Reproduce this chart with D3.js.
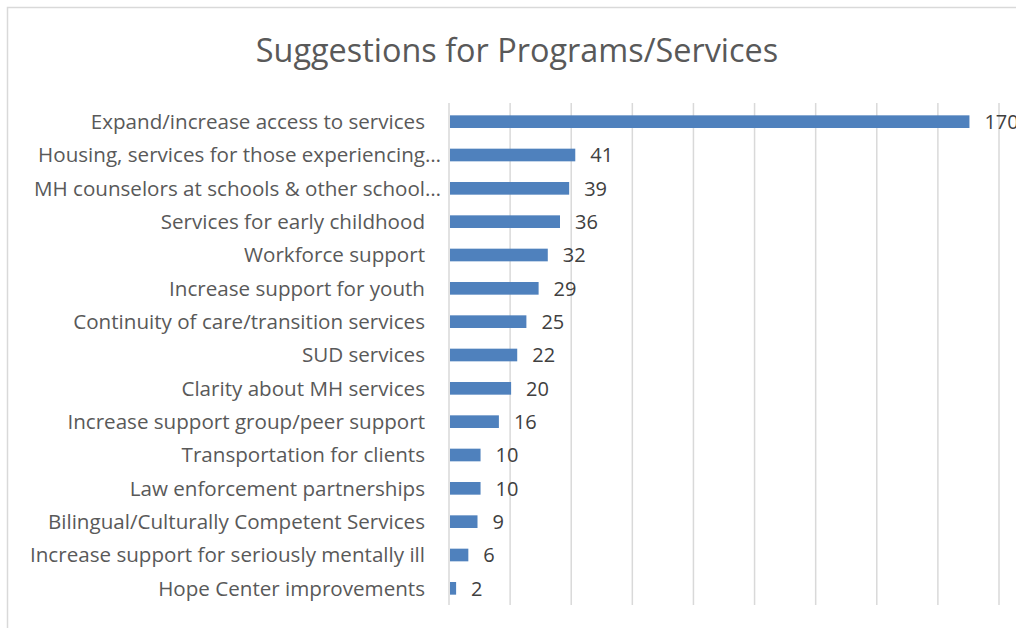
<!DOCTYPE html>
<html>
<head>
<meta charset="utf-8">
<script src="https://cdn.jsdelivr.net/npm/d3@7"></script>
<style>
  html, body { margin: 0; padding: 0; background: #fff; }
  svg { display: block; }
</style>
</head>
<body>
<svg id="chart" width="1016" height="628"></svg>
<script>
// Survey responses: suggestions for programs and services
const categories = [
  "Expand/increase access to services",
  "Housing, services for those experiencing…",
  "MH counselors at schools & other school…",
  "Services for early childhood",
  "Workforce support",
  "Increase support for youth",
  "Continuity of care/transition services",
  "SUD services",
  "Clarity about MH services",
  "Increase support group/peer support",
  "Transportation for clients",
  "Law enforcement partnerships",
  "Bilingual/Culturally Competent Services",
  "Increase support for seriously mentally ill",
  "Hope Center improvements"
];
const counts = [170, 41, 39, 36, 32, 29, 25, 22, 20, 16, 10, 10, 9, 6, 2];
const gridTicks = [0, 20, 40, 60, 80, 100, 120, 140, 160, 180];
const titleText = "Suggestions for Programs/Services";

const svg = d3.select("#chart");
const font = "'Open Sans', 'Noto Sans', sans-serif";

// chart frame
svg.append("rect")
  .attr("x", 7.5).attr("y", 7.5)
  .attr("width", 1100).attr("height", 700)
  .attr("fill", "#fff")
  .attr("stroke", "#d9d9d9").attr("stroke-width", 1.5);

const plot = { left: 449, right: 999, top: 105, bottom: 605 };

const x = d3.scaleLinear().domain([0, 180]).range([plot.left, plot.right]);
const y = d3.scaleBand().domain(categories).range([plot.top, plot.bottom]).paddingInner(0.62).paddingOuter(0.31);

// title
svg.append("text")
  .attr("x", 517).attr("y", 62)
  .attr("text-anchor", "middle")
  .attr("font-family", font)
  .attr("font-size", 32.4)
  .attr("fill", "#595959")
  .text(titleText);

// vertical gridlines
svg.append("g")
  .selectAll("line")
  .data(gridTicks)
  .join("line")
  .attr("x1", d => x(d)).attr("x2", d => x(d))
  .attr("y1", plot.top - 2).attr("y2", plot.bottom)
  .attr("stroke", "#d9d9d9").attr("stroke-width", 1.5);

// bars
svg.append("g")
  .selectAll("rect")
  .data(categories)
  .join("rect")
  .attr("x", x(0) + 1)
  .attr("y", d => y(d))
  .attr("width", (d, i) => x(counts[i]) - x(0))
  .attr("height", y.bandwidth())
  .attr("fill", "#4f81bd");

// category labels; truncated labels let the ellipsis spill past the label column
const labelSize = 20.6;
const labels = svg.append("g");
categories.forEach(c => {
  const cy = y(c) + y.bandwidth() / 2;
  const truncated = c.endsWith("…");
  const base = truncated ? c.slice(0, -1) : c;
  labels.append("text")
    .attr("x", 425).attr("y", cy)
    .attr("dy", "0.36em")
    .attr("text-anchor", "end")
    .attr("font-family", font)
    .attr("font-size", labelSize)
    .attr("fill", "#595959")
    .text(base);
  if (truncated) {
    labels.append("text")
      .attr("x", 425).attr("y", cy)
      .attr("dy", "0.36em")
      .attr("text-anchor", "start")
      .attr("font-family", font)
      .attr("font-size", labelSize)
      .attr("fill", "#595959")
      .text("…");
  }
});

// value labels
svg.append("g")
  .selectAll("text")
  .data(categories)
  .join("text")
  .attr("x", (d, i) => x(counts[i]) + 16)
  .attr("y", d => y(d) + y.bandwidth() / 2)
  .attr("dy", "0.36em")
  .attr("font-family", font)
  .attr("font-size", 20)
  .attr("fill", "#404040")
  .text((d, i) => counts[i]);
</script>
</body>
</html>
